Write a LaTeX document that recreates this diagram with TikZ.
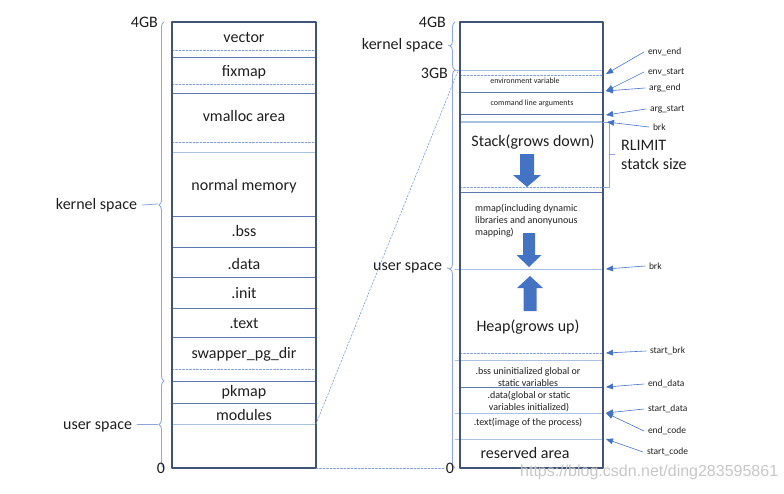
\documentclass[tikz,border=0pt]{standalone}
\usepackage{fontspec}
\setmainfont{Carlito}
\newfontfamily\wmfont{Liberation Sans}
\usetikzlibrary{arrows,decorations.pathreplacing}
\definecolor{qqzzuu}{rgb}{0.25,0.33,0.47}
\definecolor{uuttcc}{rgb}{0.36,0.47,0.69}
\definecolor{ccddff}{rgb}{0.66,0.76,0.89}
\definecolor{ttwwff}{rgb}{0.49,0.62,0.83}
\definecolor{wwttcc}{rgb}{0.55,0.66,0.85}
\definecolor{qqttcc}{rgb}{0.27,0.45,0.77}
\begin{document}
\begin{tikzpicture}[line cap=round,line join=round,>=triangle 45,x=1pt,y=-1pt,
  every node/.style={inner sep=1pt,text=black!88},
  bigt/.style={font=\fontsize{16}{19}\selectfont},
  midt/.style={font=\fontsize{10}{12}\selectfont},
  smallt/.style={font=\fontsize{8}{10}\selectfont},
  tagt/.style={font=\fontsize{9.5}{11}\selectfont,anchor=west,outer sep=3pt},
  sidet/.style={bigt,outer sep=4pt},
  solidl/.style={color=uuttcc,line width=0.8pt},
  lightl/.style={color=ccddff,line width=1pt},
  dashl/.style={color=ttwwff,line width=0.6pt,dash pattern=on 2pt off 1.5pt},
  bracel/.style={color=wwttcc,line width=0.9pt,decorate,decoration={brace,amplitude=5pt}},
  tagarrow/.style={->,color=qqttcc,line width=0.6pt}]
\useasboundingbox (0,0) rectangle (784,493);
% left box: kernel virtual memory
\foreach \y in {57,93,216,247,277,308,337,381,403}
  \draw [solidl] (172,\y) -- (316,\y);
\foreach \y in {152,424}
  \draw [lightl] (172,\y) -- (316,\y);
\foreach \y in {50,84,142,369}
  \draw [dashl] (172,\y) -- (316,\y);
\draw [color=qqzzuu,line width=1.1pt] (172,22) rectangle (316,468);
\node [bigt] (vector) at (244,37) {vector};
\node [bigt] (fixmap) at (244,72) {fixmap};
\node [bigt] (vmalloc) at (244,116) {vmalloc area};
\node [bigt] (normal) at (244,186) {normal memory};
\node [bigt] (kbss) at (244,231) {.bss};
\node [bigt] (kdata) at (244,264) {.data};
\node [bigt] (kinit) at (244,293) {.init};
\node [bigt] (ktext) at (244,323) {.text};
\node [bigt] (swapper) at (244,354) {swapper\_pg\_dir};
\node [bigt] (pkmap) at (244,392) {pkmap};
\node [bigt] (modules) at (244,415) {modules};
% left braces
\draw [bracel,decoration={aspect=0.49}] (164,381) -- (164,22);
\draw [bracel,decoration={aspect=0.5}] (164,468) -- (164,381);
\coordinate (ktip) at (158,204);
\coordinate (utip) at (158,424);
\node [bigt,anchor=east] (lfour) at (159,22) {4GB};
\node [bigt] (lzero) at (161,468) {0};
\node [sidet,anchor=east] (lkernel) at (142,205) {kernel space};
\node [sidet,anchor=east] (luser) at (137,427) {user space};
\draw [color=wwttcc,line width=0.8pt] (lkernel.east) -- (ktip);
\draw [color=wwttcc,line width=0.8pt] (luser.east |- utip) -- (utip);
% right box: process address space
\foreach \y in {92,114,192,387}
  \draw [solidl] (460,\y) -- (603,\y);
\foreach \y in {70,269,360,413,439}
  \draw [lightl] (455,\y) -- (603,\y);
\draw [color=ccddff,line width=2pt] (460,122) -- (603,122);
\foreach \y in {75,187,353}
  \draw [dashl] (460,\y) -- (603,\y);
\draw [color=qqzzuu,line width=1.1pt] (460,22) rectangle (603,468);
\node [smallt] (envvar) at (525,81) {environment variable};
\node [smallt] (cmdline) at (532,103) {command line arguments};
\node [bigt] (stack) at (533,142) {Stack(grows down)};
\node [midt,anchor=north west,align=left] (mmap) at (474,203) {mmap(including dynamic\\libraries and anonyunous\\mapping)};
\node [bigt] (heap) at (528,327) {Heap(grows up)};
\node [midt,align=center] (ubss) at (528,377) {.bss uninitialized global or\\static variables};
\node [midt,align=center] (udata) at (529,401.5) {.data(global or static\\variables initialized)};
\node [midt] (utext) at (528,423) {.text(image of the process)};
\node [bigt] (reserved) at (525,453) {reserved area};
% block arrows
\fill [qqttcc,shift={(527,154)}] (-7,0) -- (7,0) -- (7,21) -- (14,21) -- (0,33) -- (-14,21) -- (-7,21) -- cycle;
\fill [qqttcc,shift={(529,233)}] (-6,0) -- (6,0) -- (6,22) -- (12.5,22) -- (0,34) -- (-12.5,22) -- (-6,22) -- cycle;
\fill [qqttcc,shift={(530,276)}] (0,0) -- (13,12) -- (6.5,12) -- (6.5,35) -- (-6.5,35) -- (-6.5,12) -- (-13,12) -- cycle;
% right braces
\draw [bracel,decoration={aspect=0.5}] (455,70) -- (455,22);
\draw [bracel,decoration={aspect=0.5}] (455,468) -- (455,70);
\coordinate (rktip) at (450,46);
\coordinate (rutip) at (450,269);
\node [bigt,anchor=east] (rfour) at (447,22) {4GB};
\node [bigt,anchor=east] (rthree) at (449,73) {3GB};
\node [bigt] (rzero) at (450,468) {0};
\node [sidet,anchor=east] (rkernel) at (448,45) {kernel space};
\node [sidet,anchor=east] (ruser) at (447,268) {user space};
\draw [color=wwttcc,line width=0.8pt] (rkernel.east) -- (rktip);
\draw [color=wwttcc,line width=0.8pt] (ruser.east) -- (rutip);
% mapping of the user part
\draw [dashl] (316,424) -- (458,71);
\draw [dashl] (316,468) -- (rzero.west);
% RLIMIT bracket
\draw [color=wwttcc,line width=0.8pt] (603,122) -- (609,122) -- (609,187) -- (603,187);
\coordinate (rltip) at (615,154);
\draw [color=wwttcc,line width=0.8pt] (609,154) -- (rltip);
\node [bigt,anchor=west,align=left] (rlimit) at (620,155) {RLIMIT\\statck size};
% pointer labels
\node [tagt] (envend) at (644,52) {env\_end};
\node [tagt] (envstart) at (644,72) {env\_start};
\node [tagt] (argend) at (645,88) {arg\_end};
\node [tagt] (argstart) at (646,109) {arg\_start};
\node [tagt] (brka) at (649,127) {brk};
\node [tagt] (brkb) at (645,266) {brk};
\node [tagt] (startbrk) at (646,351) {start\_brk};
\node [tagt] (enddata) at (644,384) {end\_data};
\node [tagt] (startdata) at (644,409) {start\_data};
\node [tagt] (endcode) at (644,431) {end\_code};
\node [tagt] (startcode) at (643,452) {start\_code};
\coordinate (penvend) at (606,74);
\coordinate (penvstart) at (606,91);
\coordinate (pargstart) at (606,115);
\coordinate (pbrka) at (607,122);
\coordinate (pbrkb) at (606,269);
\coordinate (pstartbrk) at (606,353);
\coordinate (penddata) at (606,387);
\coordinate (pstartdata) at (606,413);
\coordinate (pstartcode) at (606,439);
\draw [tagarrow] (envend.west) -- (penvend);
\draw [tagarrow] (envstart.west) -- (penvstart);
\draw [tagarrow] (argend.west) -- (penvstart);
\draw [tagarrow] (argstart.west) -- (pargstart);
\draw [tagarrow] (brka.west) -- (pbrka);
\draw [tagarrow] (brkb.west) -- (pbrkb);
\draw [tagarrow] (startbrk.west) -- (pstartbrk);
\draw [tagarrow] (enddata.west) -- (penddata);
\draw [tagarrow] (startdata.west) -- (pstartdata);
\draw [tagarrow] (endcode.west) -- (pstartdata);
\draw [tagarrow] (startcode.west) -- (pstartcode);
\node [anchor=west,text=black!22,font=\wmfont\fontsize{16}{18}\selectfont] (mark) at (519,472) {https://blog.csdn.net/ding283595861};
\end{tikzpicture}
\end{document}
